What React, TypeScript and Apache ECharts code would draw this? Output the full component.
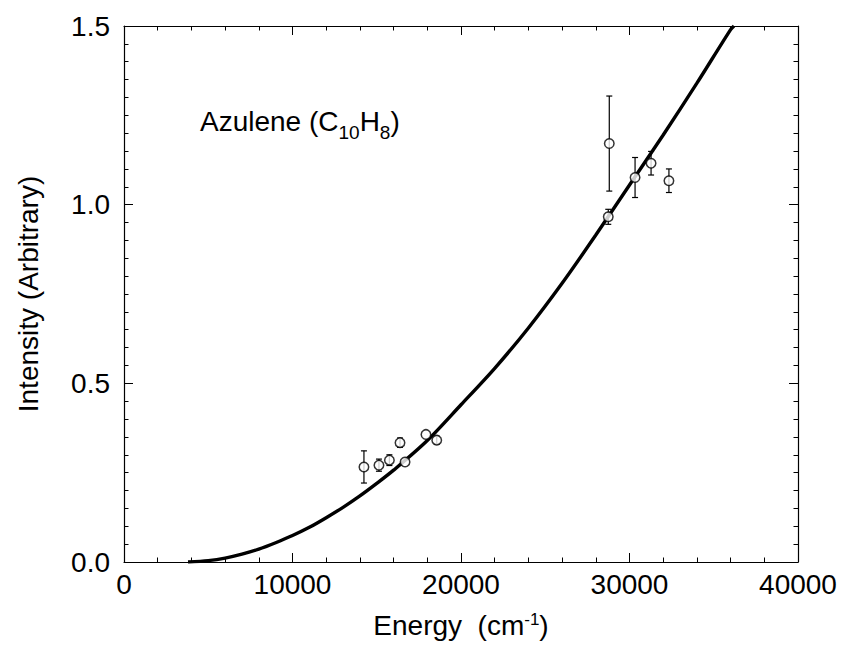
import React, { useEffect, useRef } from "react";
import * as echarts from "echarts";

// Fitted curve (energy in cm-1, intensity)
const curveEnergy = [3800, 5000, 6000, 7000, 8000, 9000, 10000, 11000, 12000, 13000, 14000, 15000, 16000, 18000, 20000, 22000, 24000, 26000, 28000, 30000, 32000, 34000, 36000, 36200];
const curveIntensity = [0.0, 0.004, 0.011, 0.022, 0.036, 0.054, 0.074, 0.097, 0.124, 0.153, 0.185, 0.22, 0.257, 0.34, 0.44, 0.542, 0.655, 0.78, 0.915, 1.055, 1.195, 1.34, 1.49, 1.5];

// Measured points with error bars
const pointEnergy = [14240, 15130, 15750, 16380, 16680, 17920, 18560, 28800, 28740, 30330, 31280, 32340];
const pointIntensity = [0.266, 0.271, 0.285, 0.334, 0.28, 0.357, 0.341, 1.171, 0.966, 1.076, 1.116, 1.067];
const pointError = [0.045, 0.017, 0.015, 0.013, 0.0, 0.0, 0.011, 0.133, 0.021, 0.056, 0.033, 0.033];

const xTicks = [0, 10000, 20000, 30000, 40000];
const yTicks = [0, 0.5, 1.0, 1.5];

const FONT = "'Liberation Sans', Arial, Helvetica, sans-serif";

export default function App() {
  const ref = useRef<HTMLDivElement>(null);
  useEffect(() => {
    if (!ref.current) return;
    const chart = echarts.init(ref.current, undefined, { renderer: "svg" });
    const curve = curveEnergy.map((e, i) => [e, curveIntensity[i]]);
    const pts = pointEnergy.map((e, i) => [e, pointIntensity[i]]);
    const errs = pointEnergy.map((e, i) => [e, pointIntensity[i] - pointError[i], pointIntensity[i] + pointError[i]]);

    const axisCommon = {
      axisLine: { show: true, onZero: false, lineStyle: { color: "#000", width: 1.2 } },
      axisTick: { show: true, inside: true, length: 9, lineStyle: { color: "#000", width: 1 } },
      minorTick: { show: true, length: 4.5, lineStyle: { color: "#000", width: 1 } },
      splitLine: { show: false },
    };

    chart.setOption({
      animation: false,
      backgroundColor: "#fff",
      grid: { left: 124, right: 45, top: 26, bottom: 87, containLabel: false },
      xAxis: [
        {
          type: "value",
          min: xTicks[0],
          max: xTicks[xTicks.length - 1],
          interval: 10000,
          position: "bottom",
          ...axisCommon,
          minorTick: { ...axisCommon.minorTick, splitNumber: 5 },
          axisLabel: { color: "#000", fontSize: 28, fontFamily: FONT, margin: 8, formatter: (v: number) => String(v) },
          name: "Energy  (cm{sup|-1})",
          nameLocation: "middle",
          nameGap: 49,
          nameTextStyle: {
            color: "#000",
            fontSize: 28,
            fontFamily: FONT,
            rich: { sup: { fontSize: 17, fontFamily: FONT, color: "#000", verticalAlign: "top", lineHeight: 14 } },
          },
        },
        {
          type: "value",
          min: xTicks[0],
          max: xTicks[xTicks.length - 1],
          interval: 10000,
          position: "top",
          ...axisCommon,
          minorTick: { ...axisCommon.minorTick, splitNumber: 5 },
          axisLabel: { show: false },
        },
      ],
      yAxis: [
        {
          type: "value",
          min: yTicks[0],
          max: yTicks[yTicks.length - 1],
          interval: 0.5,
          position: "left",
          ...axisCommon,
          minorTick: { ...axisCommon.minorTick, splitNumber: 10 },
          axisLabel: { color: "#000", fontSize: 28, fontFamily: FONT, margin: 14, formatter: (v: number) => v.toFixed(1) },
          name: "Intensity (Arbitrary)",
          nameLocation: "middle",
          nameGap: 82,
          nameTextStyle: { color: "#000", fontSize: 28, fontFamily: FONT },
        },
        {
          type: "value",
          min: yTicks[0],
          max: yTicks[yTicks.length - 1],
          interval: 0.5,
          position: "right",
          ...axisCommon,
          minorTick: { ...axisCommon.minorTick, splitNumber: 10 },
          axisLabel: { show: false },
        },
      ],
      graphic: [
        {
          type: "text",
          left: 200,
          top: 107,
          style: {
            text: "{n|Azulene (C}{sub|10}{n|H}{sub|8}{n|)}",
            font: `28px ${FONT}`,
            fill: "#000",
            rich: {
              n: { fontSize: 28, fontFamily: FONT, fill: "#000", lineHeight: 42, verticalAlign: "middle" },
              sub: { fontSize: 19, fontFamily: FONT, fill: "#000", verticalAlign: "bottom", lineHeight: 8 },
            } as any,
          },
        },
      ],
      series: [
        {
          type: "line",
          data: curve,
          smooth: 0.3,
          showSymbol: false,
          symbol: "none",
          lineStyle: { color: "#000", width: 3.4 },
          z: 2,
          clip: true,
        },
        {
          type: "custom",
          data: errs,
          z: 3,
          renderItem: (params: any, api: any) => {
            const x = api.value(0);
            const lo = api.coord([x, api.value(1)]);
            const hi = api.coord([x, api.value(2)]);
            if (Math.abs(hi[1] - lo[1]) < 1) return { type: "group", children: [] };
            const cap = 3;
            const st = { stroke: "#000", lineWidth: 1.2 };
            return {
              type: "group",
              children: [
                { type: "line", shape: { x1: lo[0], y1: lo[1], x2: hi[0], y2: hi[1] }, style: st },
                { type: "line", shape: { x1: lo[0] - cap, y1: lo[1], x2: lo[0] + cap, y2: lo[1] }, style: st },
                { type: "line", shape: { x1: hi[0] - cap, y1: hi[1], x2: hi[0] + cap, y2: hi[1] }, style: st },
              ],
            };
          },
        },
        {
          type: "scatter",
          data: pts,
          symbol: "circle",
          symbolSize: 9.5,
          itemStyle: { color: "#fff", borderColor: "#000", borderWidth: 1.5 },
          z: 4,
        },
      ],
    });
    return () => chart.dispose();
  }, []);
  return <div ref={ref} style={{ position: "fixed", left: 0, top: 0, width: 843, height: 649 }} />;
}
